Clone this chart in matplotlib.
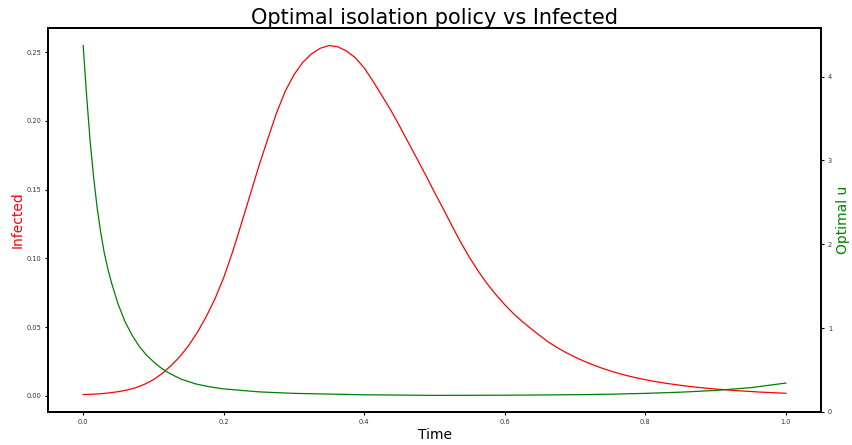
import matplotlib
matplotlib.use("Agg")
import matplotlib.pyplot as plt

# Infected fraction over time (left axis), read every 0.0125
t_inf = [0.0, 0.0125, 0.025, 0.0375, 0.05, 0.0625, 0.075, 0.0875, 0.1, 0.1125,
         0.125, 0.1375, 0.15, 0.1625, 0.175, 0.1875, 0.2, 0.2125, 0.225, 0.2375,
         0.25, 0.2625, 0.275, 0.2875, 0.3, 0.3125, 0.325, 0.3375, 0.35, 0.3625,
         0.375, 0.3875, 0.4, 0.4125, 0.425, 0.4375, 0.45, 0.4625, 0.475, 0.4875,
         0.5, 0.5125, 0.525, 0.5375, 0.55, 0.5625, 0.575, 0.5875, 0.6, 0.6125,
         0.625, 0.6375, 0.65, 0.6625, 0.675, 0.6875, 0.7, 0.7125, 0.725, 0.7375,
         0.75, 0.7625, 0.775, 0.7875, 0.8, 0.8125, 0.825, 0.8375, 0.85, 0.8625,
         0.875, 0.8875, 0.9, 0.9125, 0.925, 0.9375, 0.95, 0.9625, 0.975, 0.9875, 1.0]
infected = [0.001, 0.0012, 0.0016, 0.0022, 0.0031, 0.0043, 0.006, 0.0085, 0.0118, 0.0163,
            0.022, 0.0285, 0.0365, 0.0462, 0.0575, 0.0705, 0.086, 0.1045, 0.125, 0.146,
            0.167, 0.1865, 0.2055, 0.2215, 0.2335, 0.2425, 0.2488, 0.2528, 0.2548, 0.2538,
            0.2507, 0.2458, 0.2385, 0.2288, 0.2185, 0.208, 0.1965, 0.1845, 0.1725, 0.1605,
            0.148, 0.136, 0.1235, 0.1115, 0.1005, 0.0905, 0.0815, 0.0735, 0.0663, 0.0598,
            0.054, 0.0488, 0.0438, 0.039, 0.035, 0.0314, 0.0282, 0.0253, 0.0227, 0.0203,
            0.0182, 0.0163, 0.0146, 0.0131, 0.0118, 0.0106, 0.0095, 0.0086, 0.0077, 0.0069,
            0.0062, 0.0056, 0.005, 0.0045, 0.004, 0.0036, 0.0032, 0.0028, 0.0025, 0.0022, 0.0019]

# Optimal isolation control (right axis)
t_u = [0.0, 0.005, 0.01, 0.015, 0.02, 0.025, 0.03, 0.035, 0.04, 0.05,
       0.06, 0.07, 0.08, 0.09, 0.1, 0.11, 0.12, 0.13, 0.14, 0.16,
       0.18, 0.2, 0.25, 0.3, 0.4, 0.5, 0.6, 0.7, 0.75, 0.8,
       0.85, 0.9, 0.95, 1.0]
u_opt = [4.37, 3.76, 3.22, 2.79, 2.43, 2.14, 1.9, 1.71, 1.55, 1.28,
         1.07, 0.91, 0.78, 0.68, 0.60, 0.53, 0.475, 0.43, 0.39, 0.335,
         0.30, 0.275, 0.24, 0.222, 0.205, 0.198, 0.2, 0.206, 0.212, 0.222,
         0.236, 0.257, 0.29, 0.345]

fig = plt.figure(figsize=(8.53, 4.45), dpi=100)
ax1 = fig.add_axes([0.0563, 0.0742, 0.9062, 0.8628])
ax2 = ax1.twinx()

ax1.plot(t_inf, infected, color="red", lw=0.9)
ax2.plot(t_u, u_opt, color="green", lw=0.9)
ax2.set_ylim(bottom=0)

ax1.set_xlabel("Time", fontsize=10, labelpad=2)
ax1.set_ylabel("Infected", color="red", fontsize=10, labelpad=1)
ax2.set_ylabel("Optimal u", color="green", fontsize=10, labelpad=3)
ax1.set_title("Optimal isolation policy vs Infected", fontsize=15, pad=3)

for ax in (ax1, ax2):
    ax.tick_params(labelsize=4.8, length=2, width=0.8, pad=3, labelcolor="#333333")
    for s in ax.spines.values():
        s.set_linewidth(1.3)

fig.savefig("out.png", dpi=100)
